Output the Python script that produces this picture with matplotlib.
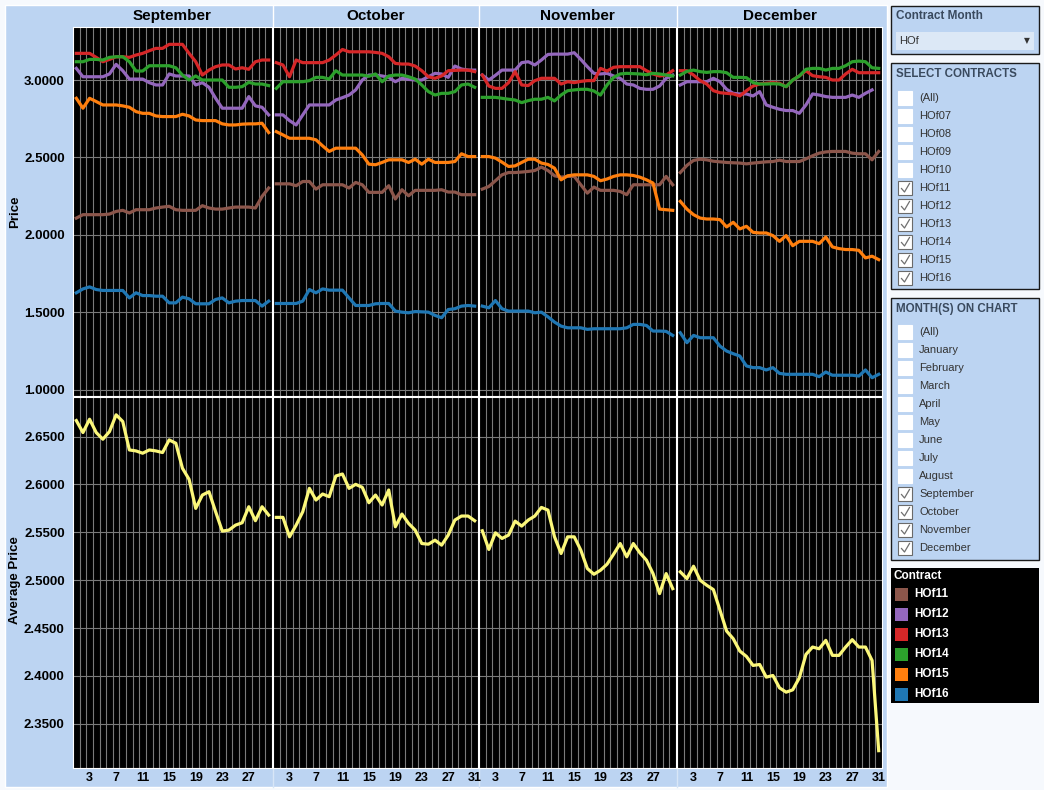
import numpy as np
import matplotlib
matplotlib.use("Agg")
import matplotlib.pyplot as plt
from matplotlib.patches import Rectangle

plt.rcParams['font.family'] = ['Liberation Sans', 'DejaVu Sans']

W, H = 1044, 790

months = ["September", "October", "November", "December"]
month_days = [30, 31, 30, 31]
contracts = ["HOf11", "HOf12", "HOf13", "HOf14", "HOf15", "HOf16"]
contract_colors = ["#8c564b", "#9467bd", "#d62728", "#2ca02c", "#ff7f0e", "#1f77b4"]
nan = np.nan

# daily price per contract and month
hof11_sep = [2.109,2.131,2.131,2.131,2.131,2.135,2.152,2.159,2.142,2.163,2.163,2.163,2.174,2.180,2.185,
             2.163,2.159,2.159,2.159,2.189,2.174,2.167,2.167,2.174,2.180,2.180,2.180,2.174,2.249,2.303]
hof11_oct = [2.330,2.330,2.330,2.318,2.345,2.345,2.296,2.324,2.324,2.324,2.324,2.303,2.339,2.324,2.275,
             2.275,2.275,2.318,2.232,2.292,2.253,2.288,2.288,2.288,2.288,2.292,2.277,2.277,2.260,2.260,2.260]
hof11_nov = [2.296,2.313,2.350,2.388,2.403,2.403,2.406,2.410,2.416,2.438,2.416,2.382,2.373,2.378,2.378,
             2.324,2.270,2.309,2.288,2.288,2.288,2.281,2.260,2.324,2.324,2.324,2.324,2.324,2.378,2.324]
hof11_dec = [2.403,2.449,2.481,2.489,2.485,2.476,2.472,2.468,2.466,2.464,2.459,2.464,2.468,2.472,2.474,
             2.483,2.474,2.474,2.474,2.491,2.511,2.528,2.536,2.539,2.539,2.539,2.528,2.524,2.524,2.485,2.539]

hof12_sep = [3.075,3.021,3.021,3.021,3.021,3.039,3.101,3.060,3.006,3.006,3.006,2.983,2.968,2.968,3.039,
             3.026,3.026,3.026,2.968,2.983,2.953,2.882,2.818,2.818,2.818,2.818,2.893,2.833,2.824,2.775]
hof12_oct = [2.775,2.775,2.738,2.710,2.775,2.839,2.839,2.839,2.839,2.871,2.886,2.903,2.936,3.000,3.032,
             3.032,3.026,3.017,2.989,3.011,3.004,3.000,3.000,3.021,3.043,3.039,3.017,3.090,3.071,3.064,3.064]
hof12_nov = [3.032,3.000,3.030,3.064,3.064,3.064,3.112,3.118,3.097,3.129,3.165,3.167,3.167,3.167,3.176,
             3.133,3.086,3.043,3.039,3.043,3.026,3.011,2.974,2.968,2.946,2.940,2.940,2.961,3.011,3.032]
hof12_dec = [2.968,2.989,2.989,2.989,2.989,3.011,2.989,2.940,2.914,2.910,2.910,2.897,2.925,2.839,2.824,
             2.811,2.803,2.803,2.785,2.839,2.910,2.903,2.893,2.888,2.888,2.888,2.903,2.888,2.914,2.936,nan]

hof13_sep = [3.172,3.172,3.172,3.146,3.118,3.133,3.150,3.150,3.146,3.161,3.172,3.189,3.204,3.204,3.230,
             3.230,3.230,3.172,3.118,3.032,3.064,3.086,3.097,3.097,3.071,3.079,3.069,3.118,3.129,3.129]
hof13_oct = [3.112,3.097,3.021,3.129,3.112,3.112,3.112,3.112,3.129,3.161,3.197,3.182,3.182,3.182,3.182,
             3.178,3.172,3.150,3.107,3.103,3.103,3.090,3.060,3.021,3.011,3.026,3.060,3.062,3.064,3.064,3.054]
hof13_nov = [3.032,2.961,2.946,2.946,2.983,3.054,2.968,2.964,2.996,3.011,3.011,3.011,2.974,2.989,2.983,
             2.991,2.996,2.996,3.075,3.058,3.082,3.086,3.086,3.086,3.086,3.060,3.039,3.026,3.032,3.060]
hof13_dec = [3.060,3.060,3.032,2.996,2.974,2.931,2.918,2.914,2.910,2.897,2.931,2.961,2.974,2.979,2.983,
             2.979,2.957,3.000,3.026,3.060,3.028,3.021,3.017,3.000,3.000,3.039,3.069,3.047,3.047,3.047,3.047]

hof14_sep = [3.118,3.118,3.133,3.133,3.129,3.146,3.150,3.150,3.118,3.058,3.058,3.092,3.092,3.092,3.092,
             3.079,3.032,3.000,3.026,3.000,3.000,3.000,3.000,2.953,2.953,2.957,2.985,2.974,2.974,2.964]
hof14_oct = [2.946,2.989,2.989,2.989,2.989,2.996,3.017,3.017,3.006,3.060,3.032,3.032,3.032,3.032,3.024,
             3.039,2.989,3.026,3.032,3.032,3.021,3.006,2.968,2.925,2.903,2.914,2.914,2.925,2.968,2.974,2.953]
hof14_nov = [2.888,2.888,2.888,2.882,2.876,2.871,2.854,2.867,2.876,2.876,2.888,2.865,2.903,2.931,2.936,
             2.940,2.940,2.929,2.903,2.968,3.017,3.039,3.043,3.041,3.039,3.034,3.043,3.039,3.032,3.026]
hof14_dec = [3.032,3.056,3.064,3.054,3.049,3.054,3.054,3.047,3.017,3.017,3.015,2.983,2.974,2.974,2.976,
             2.974,2.957,3.000,3.026,3.069,3.075,3.075,3.064,3.075,3.075,3.092,3.118,3.122,3.118,3.079,3.075]

hof15_sep = [2.882,2.818,2.882,2.861,2.839,2.839,2.839,2.833,2.824,2.796,2.785,2.785,2.768,2.764,2.764,
             2.764,2.779,2.768,2.742,2.738,2.738,2.738,2.717,2.710,2.710,2.715,2.717,2.717,2.721,2.661]
hof15_oct = [2.667,2.646,2.624,2.624,2.624,2.624,2.614,2.575,2.539,2.560,2.560,2.560,2.560,2.517,2.457,
             2.453,2.468,2.485,2.485,2.485,2.468,2.489,2.457,2.489,2.468,2.468,2.468,2.474,2.524,2.506,2.506]
hof15_nov = [2.506,2.506,2.496,2.470,2.442,2.446,2.468,2.489,2.489,2.464,2.455,2.431,2.356,2.382,2.388,
             2.388,2.388,2.378,2.350,2.361,2.378,2.388,2.388,2.384,2.373,2.356,2.335,2.167,2.163,2.159]
hof15_dec = [2.217,2.167,2.131,2.109,2.103,2.103,2.099,2.052,2.082,2.039,2.056,2.017,2.013,2.013,1.996,
             1.959,1.996,1.931,1.959,1.959,1.959,1.944,1.987,1.923,1.912,1.906,1.906,1.901,1.852,1.863,1.841]

hof16_sep = [1.627,1.652,1.665,1.648,1.642,1.642,1.642,1.642,1.594,1.627,1.609,1.609,1.605,1.605,1.562,
             1.562,1.599,1.588,1.556,1.556,1.556,1.584,1.594,1.562,1.573,1.577,1.577,1.577,1.541,1.573]
hof16_oct = [1.558,1.558,1.558,1.558,1.573,1.648,1.627,1.652,1.644,1.644,1.644,1.594,1.545,1.545,1.545,
             1.556,1.558,1.558,1.509,1.502,1.498,1.506,1.504,1.502,1.481,1.466,1.519,1.524,1.541,1.545,1.541]
hof16_nov = [1.541,1.530,1.577,1.524,1.509,1.509,1.509,1.509,1.498,1.502,1.472,1.438,1.412,1.401,1.401,
             1.401,1.391,1.395,1.395,1.395,1.395,1.395,1.401,1.423,1.423,1.416,1.380,1.380,1.378,1.352]
hof16_dec = [1.369,1.305,1.352,1.337,1.337,1.337,1.283,1.251,1.234,1.219,1.155,1.144,1.144,1.129,1.144,
             1.107,1.101,1.101,1.101,1.101,1.101,1.086,1.116,1.095,1.095,1.095,1.095,1.090,1.129,1.079,1.101]

# average price per day
avg_sep = [2.6667,2.6542,2.6681,2.6542,2.6472,2.6552,2.6727,2.6657,2.6360,2.6350,2.6326,2.6360,2.6350,2.6333,2.6465,
           2.6430,2.6169,2.6053,2.5750,2.5889,2.5924,2.5715,2.5513,2.5523,2.5575,2.5600,2.5767,2.5621,2.5767,2.5680]
avg_oct = [2.5656,2.5656,2.5453,2.5575,2.5715,2.5959,2.5837,2.5900,2.5872,2.6088,2.6109,2.5959,2.6001,2.5970,2.5809,
           2.5889,2.5785,2.5942,2.5558,2.5691,2.5593,2.5523,2.5383,2.5376,2.5418,2.5366,2.5471,2.5628,2.5670,2.5670,2.5621]
avg_nov = [2.5516,2.5321,2.5495,2.5436,2.5471,2.5617,2.5565,2.5628,2.5670,2.5760,2.5732,2.5453,2.5279,2.5453,2.5453,
           2.5314,2.5122,2.5062,2.5104,2.5167,2.5272,2.5383,2.5244,2.5383,2.5286,2.5209,2.5069,2.4860,2.5069,2.4912]
avg_dec = [2.5087,2.5017,2.5146,2.5000,2.4947,2.4902,2.4686,2.4469,2.4389,2.4260,2.4204,2.4110,2.4120,2.3988,2.4005,
           2.3876,2.3831,2.3855,2.3981,2.4225,2.4302,2.4284,2.4372,2.4215,2.4215,2.4302,2.4379,2.4302,2.4302,2.4162,2.3220]

price_ticks = [1.0, 1.5, 2.0, 2.5, 3.0]
avg_ticks = [2.35, 2.40, 2.45, 2.50, 2.55, 2.60, 2.65]

contract_list = ["(All)", "HOf07", "HOf08", "HOf09", "HOf10", "HOf11", "HOf12",
                 "HOf13", "HOf14", "HOf15", "HOf16"]
contract_checked = [False] * 5 + [True] * 6
month_list = ["(All)", "January", "February", "March", "April", "May", "June", "July",
              "August", "September", "October", "November", "December"]
month_checked = [False] * 9 + [True] * 4

price = {
    "HOf11": [hof11_sep, hof11_oct, hof11_nov, hof11_dec],
    "HOf12": [hof12_sep, hof12_oct, hof12_nov, hof12_dec],
    "HOf13": [hof13_sep, hof13_oct, hof13_nov, hof13_dec],
    "HOf14": [hof14_sep, hof14_oct, hof14_nov, hof14_dec],
    "HOf15": [hof15_sep, hof15_oct, hof15_nov, hof15_dec],
    "HOf16": [hof16_sep, hof16_oct, hof16_nov, hof16_dec],
}
avg_price = [avg_sep, avg_oct, avg_nov, avg_dec]

LIGHT = "#bcd4f2"
GRID = "#7a7a7a"
TXT = "#3a4a5e"


def px(x0, y0, x1, y1):
    return [x0 / W, 1 - y1 / H, (x1 - x0) / W, (y1 - y0) / H]


fig = plt.figure(figsize=(W / 100, H / 100), dpi=100, facecolor="#f6f9fd")
bg = fig.add_axes([0, 0, 1, 1])
bg.set_xlim(0, W)
bg.set_ylim(H, 0)
bg.axis("off")

# chart background
bg.add_patch(Rectangle((5, 5), 882, 782, facecolor=LIGHT, edgecolor="white", lw=1))

lefts = [73, 273, 479, 677]
widths = [199, 205, 197, 205]

for j, m in enumerate(months):
    n = month_days[j]
    days = np.arange(1, n + 1)
    x0, x1 = lefts[j], lefts[j] + widths[j]
    bg.text((x0 + x1) / 2, 16, m, ha="center", va="center", fontsize=11, fontweight="bold")
    if j > 0:
        bg.plot([x0 - 0.5, x0 - 0.5], [5, 27], color="white", lw=1)
        bg.plot([x0 - 0.5, x0 - 0.5], [768, 787], color="#d8e6f7", lw=1)

    ax_t = fig.add_axes(px(x0, 27, x1, 396))
    ax_b = fig.add_axes(px(x0, 397, x1, 768))
    for ax in (ax_t, ax_b):
        ax.set_facecolor("black")
        ax.set_xlim(0.5, n + 0.5)
        ax.set_xticks(np.arange(1.5, n, 1.0), minor=True)
        ax.grid(True, which="minor", axis="x", color=GRID, lw=0.8)
        ax.grid(True, which="major", axis="y", color=GRID, lw=0.8)
        ax.tick_params(which="both", length=0)
        for s in ax.spines.values():
            s.set_color("white")
            s.set_linewidth(0.8)
        ax.set_axisbelow(True)

    for k, c in enumerate(contracts):
        ax_t.plot(days, np.array(price[c][j], dtype=float), color=contract_colors[k],
                  lw=2.3, solid_joinstyle="round")
    ax_b.plot(days, avg_price[j], color="#fbf77a", lw=2.3, solid_joinstyle="round")

    ax_t.set_ylim(0.961, 3.342)
    ax_t.set_yticks(price_ticks)
    ax_b.set_ylim(2.3039, 2.6913)
    ax_b.set_yticks(avg_ticks)
    ax_t.set_xticks(np.arange(3, n + 1, 4))
    ax_t.tick_params(labelbottom=False)
    ax_b.set_xticks(np.arange(3, n + 1, 4))
    ax_b.set_xticklabels([str(d) for d in range(3, n + 1, 4)], fontsize=9, fontweight="bold")
    ax_b.tick_params(axis="x", pad=3)
    if j == 0:
        ax_t.set_yticklabels(["%.4f" % v for v in price_ticks], fontsize=9.5, fontweight="bold")
        ax_b.set_yticklabels(["%.4f" % v for v in avg_ticks], fontsize=9.5, fontweight="bold")
        ax_t.tick_params(axis="y", pad=6)
        ax_b.tick_params(axis="y", pad=6)
    else:
        ax_t.tick_params(labelleft=False)
        ax_b.tick_params(labelleft=False)

bg.text(15, 212, "Price", rotation=90, ha="center", va="center", fontsize=9.5, fontweight="bold")
bg.text(15, 580, "Average Price", rotation=90, ha="center", va="center", fontsize=9.5, fontweight="bold")

# right side: filters and legend
bg.add_patch(Rectangle((891, 6), 148, 48, facecolor=LIGHT, edgecolor="#1a1a1a", lw=1))
bg.text(896, 16, "Contract Month", ha="left", va="center", fontsize=8.5, fontweight="bold", color=TXT)
bg.add_patch(Rectangle((896, 32), 138, 18, facecolor="#dce8f6", edgecolor="none"))
bg.text(899, 41, "HOf", ha="left", va="center", fontsize=8, color="#333333")
bg.text(1027, 41, "\u25bc", ha="center", va="center", fontsize=5.5, color="#333333",
        family=["DejaVu Sans"])


def checklist(top, bottom, title, items, checked, y_first):
    bg.add_patch(Rectangle((891, top), 148, bottom - top, facecolor=LIGHT, edgecolor="#1a1a1a", lw=1))
    bg.text(896, top + 11, title, ha="left", va="center", fontsize=8.3, fontweight="bold", color=TXT)
    for i, (label, on) in enumerate(zip(items, checked)):
        yc = y_first + 18 * i
        bg.add_patch(Rectangle((898, yc - 7), 14, 14, facecolor="white",
                               edgecolor="#6a6a6a" if on else "white", lw=0.8))
        if on:
            bg.plot([901.5, 904.5, 909.5], [yc + 0.5, yc + 4, yc - 4.5], color="#707070", lw=0.9)
        bg.text(919, yc, label, ha="left", va="center", fontsize=8, color="#333333")


checklist(63, 289, "SELECT CONTRACTS", contract_list, contract_checked, 98)
checklist(298, 560, "MONTH(S) ON CHART", month_list, month_checked, 332)

bg.add_patch(Rectangle((891, 568), 148, 135, facecolor="black", edgecolor="none"))
bg.text(893, 576, "Contract", ha="left", va="center", fontsize=8.5, fontweight="bold", color="white")
for k, c in enumerate(contracts):
    yc = 594 + 20 * k
    bg.add_patch(Rectangle((895, yc - 6.5), 13, 13, facecolor=contract_colors[k], edgecolor="none"))
    bg.text(914, yc, c, ha="left", va="center", fontsize=8.5, fontweight="bold", color="white")

fig.savefig("out.png", dpi=100, facecolor=fig.get_facecolor())
